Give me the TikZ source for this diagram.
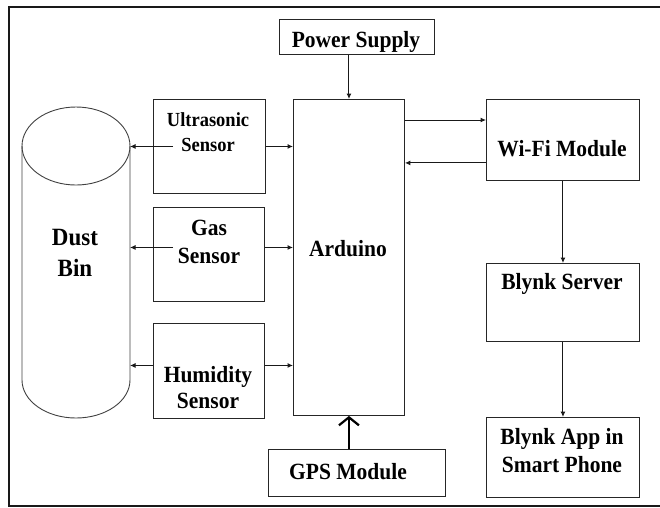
\documentclass[tikz,border=0pt]{standalone}
\usepackage{fontspec}
\usepackage{graphicx}
\setmainfont{Liberation Serif}
\usetikzlibrary{arrows.meta}
\newcommand\vstr[1]{\scalebox{1}[1.08]{#1}}
\begin{document}
\begin{tikzpicture}[x=1pt,y=-1pt,
 box/.style={draw=black!85,line width=0.9pt,inner sep=0pt,anchor=north west},
 txt/.style={font=\bfseries\fontsize{21.5}{26}\selectfont,inner sep=0pt,anchor=base},
 txts/.style={font=\bfseries\fontsize{18.5}{22}\selectfont,inner sep=0pt,anchor=base},
 txtl/.style={font=\bfseries\fontsize{23}{28}\selectfont,inner sep=0pt,anchor=base},
 arr/.style={draw=black!90,line width=1pt,-{Latex[length=5.5pt,width=5pt]}},
 bigarr/.style={draw=black,line width=2.2pt,-{Straight Barb[length=8pt,width=20pt,line width=2.2pt]}}]
\useasboundingbox (0,0) rectangle (660,507);
\draw[line width=2pt,black!90] (660,7) -- (9,7) -- (9,506) -- (660,506);

% cylinder
\draw[black!75,line width=0.9pt] (76,146) ellipse [x radius=54, y radius=39];
\draw[black!75,line width=0.9pt] (22,146) -- (22,380) arc[start angle=180,end angle=0,x radius=54,y radius=38] -- (130,146);
\coordinate (binE) at (130,0);
\node[txtl] at (75,245) {\vstr{Dust}};
\node[txtl] at (75,276) {\vstr{Bin}};

% boxes
\node[box,minimum width=155pt,minimum height=35pt] (ps) at (279,19) {};
\node[box,minimum width=111pt,minimum height=316pt] (ard) at (293,99) {};
\node[box,minimum width=112pt,minimum height=94pt] (us) at (153,99) {};
\node[box,minimum width=111pt,minimum height=94pt] (gas) at (153,207) {};
\node[box,minimum width=111pt,minimum height=95pt] (hum) at (153,323) {};
\node[box,minimum width=153pt,minimum height=81pt] (wifi) at (486,99) {};
\node[box,minimum width=153pt,minimum height=78pt] (bs) at (486,263) {};
\node[box,minimum width=153pt,minimum height=80pt] (app) at (486,417) {};
\node[box,minimum width=177pt,minimum height=47pt] (gps) at (268,449) {};

% texts
\node[txt] at (356,47) {\vstr{Power Supply}};
\node[txt] at (348,256) {\vstr{Arduino}};
\node[txts] at (208,126) {\vstr{Ultrasonic}};
\node[txts] at (208,151) {\vstr{Sensor}};
\node[txt] at (209,235) {\vstr{Gas}};
\node[txt] at (209,263) {\vstr{Sensor}};
\node[txt] at (208,382) {\vstr{Humidity}};
\node[txt] at (208,408) {\vstr{Sensor}};
\node[txt] at (562,156) {\vstr{Wi-Fi Module}};
\node[txt] at (562,289) {\vstr{Blynk Server}};
\node[txt] at (562,444) {\vstr{Blynk App in}};
\node[txt] at (562,472) {\vstr{Smart Phone}};
\node[txt] at (348,479) {\vstr{GPS Module}};

% connectors
\draw[arr] (ps.south -| ard.north) -- (ard.north);
\draw[arr] ([yshift=-21pt]ard.north east) -- ([yshift=-21pt]ard.north east -| wifi.west);
\draw[arr] ([yshift=18pt]wifi.south west) -- ([yshift=18pt]wifi.south west -| ard.east);
\draw[arr] (wifi.south) -- (bs.north);
\draw[arr] (bs.south) -- (app.north);
\draw[bigarr] (gps.north -| ard.south) -- (ard.south);

\draw[arr] (us.east) -- (us.east -| ard.west);
\draw[arr] ([xshift=20pt]us.west) -- (us.west -| binE);
\draw[arr] ([yshift=7pt]gas.east) -- ([yshift=7pt]gas.east -| ard.west);
\draw[arr] ([xshift=20pt,yshift=7pt]gas.west) -- ([yshift=7pt]gas.west -| binE);
\draw[arr] ([yshift=5.5pt]hum.east) -- ([yshift=5.5pt]hum.east -| ard.west);
\draw[arr] ([yshift=5.5pt]hum.west) -- ([yshift=5.5pt]hum.west -| binE);
\end{tikzpicture}
\end{document}
